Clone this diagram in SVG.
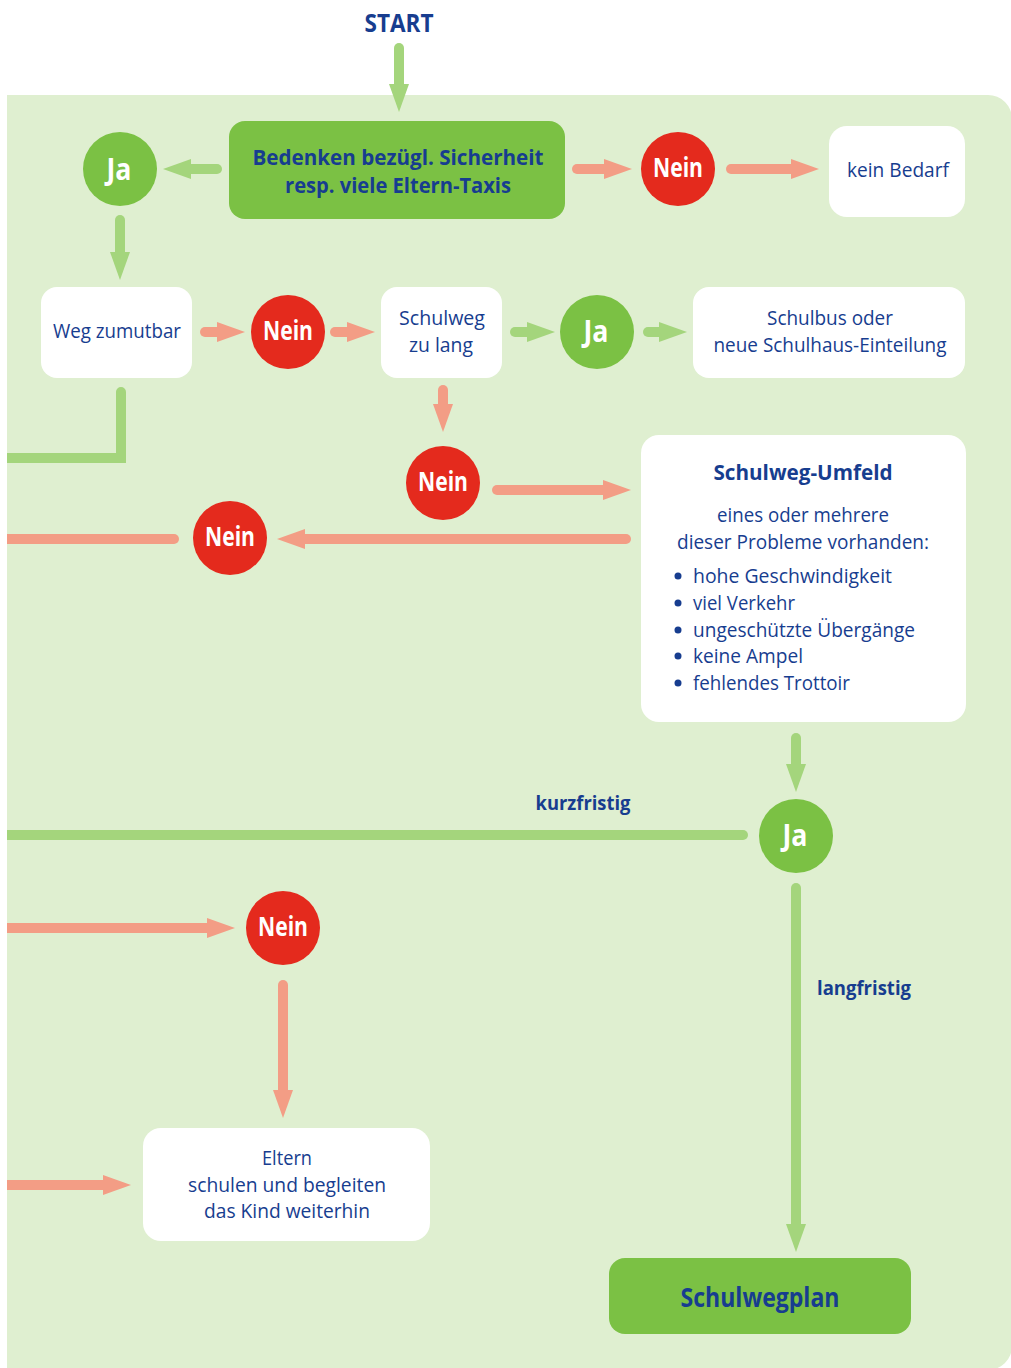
<svg xmlns="http://www.w3.org/2000/svg" width="1011" height="1368" viewBox="0 0 1011 1368">
<style>
.t{font-family:"Open Sans","Noto Sans",sans-serif;fill:#173D8F;text-anchor:middle}
.r{font-size:20px}
.b{font-weight:bold}
.w{fill:#fff}
.box{fill:#fff}
.gbox{fill:#7BC144}
.jc{fill:#7BC144}
.nc{fill:#E42A1D}
.g{stroke:#A4D57C;stroke-width:10;fill:none;stroke-linecap:round}
.s{stroke:#F39D85;stroke-width:10;fill:none;stroke-linecap:round}
</style>
<defs>
<marker id="ag" viewBox="0 0 28 20" refX="0" refY="10" markerWidth="28" markerHeight="20" markerUnits="userSpaceOnUse" orient="auto"><path d="M0,0 L28,10 L0,20 Z" fill="#A4D57C"/></marker>
<marker id="as" viewBox="0 0 28 20" refX="0" refY="10" markerWidth="28" markerHeight="20" markerUnits="userSpaceOnUse" orient="auto"><path d="M0,0 L28,10 L0,20 Z" fill="#F39D85"/></marker>
<clipPath id="panelclip"><rect x="7" y="0" width="1005" height="1370"/></clipPath>
</defs>
<rect width="1011" height="1368" fill="#fff"/>
<path d="M7,95 H988 A24,24 0 0 1 1012,119 V1346 A24,24 0 0 1 988,1370 H7 Z" fill="#DFEFD0"/>

<text class="t b" x="399" y="32" font-size="25" textLength="69" lengthAdjust="spacingAndGlyphs">START</text>

<g id="connectors" clip-path="url(#panelclip)">
<path class="g" d="M399,48 V84" marker-end="url(#ag)"/>
<path class="g" d="M217,169 H191" marker-end="url(#ag)"/>
<path class="s" d="M577,169 H604" marker-end="url(#as)"/>
<path class="s" d="M731,169 H791" marker-end="url(#as)"/>
<path class="g" d="M120,220 V252" marker-end="url(#ag)"/>
<path class="s" d="M205,332 H217" marker-end="url(#as)"/>
<path class="s" d="M335,332 H347" marker-end="url(#as)"/>
<path class="g" d="M515,332 H527" marker-end="url(#ag)"/>
<path class="g" d="M648,332 H659" marker-end="url(#ag)"/>
<path class="s" d="M443,390 V404" marker-end="url(#as)"/>
<path class="g" d="M121,392 V458 H-10" stroke-linejoin="miter"/>
<path class="s" d="M497,490 H603" marker-end="url(#as)"/>
<path class="s" d="M626,539 H305" marker-end="url(#as)"/>
<path class="s" d="M-10,539 H174"/>
<path class="g" d="M796,738 V764" marker-end="url(#ag)"/>
<path class="g" d="M-10,835 H743"/>
<path class="g" d="M796,888 V1224" marker-end="url(#ag)"/>
<path class="s" d="M-10,928 H207" marker-end="url(#as)"/>
<path class="s" d="M283,985 V1090" marker-end="url(#as)"/>
<path class="s" d="M-10,1185 H103" marker-end="url(#as)"/>
<text class="t b" x="583" y="810" font-size="19" textLength="95" lengthAdjust="spacingAndGlyphs">kurzfristig</text>
<text class="t b" x="864" y="995" font-size="19" textLength="94" lengthAdjust="spacingAndGlyphs">langfristig</text>
</g>

<g id="n-bedenken">
<rect class="gbox" x="229" y="121" width="336" height="98" rx="16"/>
<text class="t b" x="398" y="165" font-size="20.5" textLength="291" lengthAdjust="spacingAndGlyphs">Bedenken bezügl. Sicherheit</text>
<text class="t b" x="398" y="193" font-size="20.5" textLength="226" lengthAdjust="spacingAndGlyphs">resp. viele Eltern-Taxis</text>
</g>
<g id="n-ja1"><circle class="jc" cx="120" cy="169" r="37"/><text class="t b w" x="119" y="180" font-size="30" textLength="25" lengthAdjust="spacingAndGlyphs">Ja</text></g>
<g id="n-nein1"><circle class="nc" cx="678" cy="169" r="37"/><text class="t b w" x="678" y="177" font-size="26" textLength="50" lengthAdjust="spacingAndGlyphs">Nein</text></g>
<g id="n-keinbedarf">
<rect class="box" x="829" y="126" width="136" height="91" rx="18"/>
<text class="t r" x="898" y="177" textLength="102" lengthAdjust="spacingAndGlyphs">kein Bedarf</text>
</g>
<g id="n-weg">
<rect class="box" x="41" y="287" width="151" height="91" rx="16"/>
<text class="t r" x="117" y="338" textLength="128" lengthAdjust="spacingAndGlyphs">Weg zumutbar</text>
</g>
<g id="n-nein2"><circle class="nc" cx="288" cy="332" r="37"/><text class="t b w" x="288" y="340" font-size="26" textLength="50" lengthAdjust="spacingAndGlyphs">Nein</text></g>
<g id="n-schulweg">
<rect class="box" x="381" y="287" width="121" height="91" rx="16"/>
<text class="t r" x="442" y="325" textLength="86" lengthAdjust="spacingAndGlyphs">Schulweg</text>
<text class="t r" x="441" y="352" textLength="64" lengthAdjust="spacingAndGlyphs">zu lang</text>
</g>
<g id="n-ja2"><circle class="jc" cx="597" cy="332" r="37"/><text class="t b w" x="596" y="342" font-size="30" textLength="25" lengthAdjust="spacingAndGlyphs">Ja</text></g>
<g id="n-schulbus">
<rect class="box" x="693" y="287" width="272" height="91" rx="16"/>
<text class="t r" x="830" y="325" textLength="126" lengthAdjust="spacingAndGlyphs">Schulbus oder</text>
<text class="t r" x="830" y="352" textLength="233" lengthAdjust="spacingAndGlyphs">neue Schulhaus-Einteilung</text>
</g>
<g id="n-nein3"><circle class="nc" cx="443" cy="483" r="37"/><text class="t b w" x="443" y="491" font-size="26" textLength="50" lengthAdjust="spacingAndGlyphs">Nein</text></g>
<g id="n-umfeld">
<rect class="box" x="641" y="435" width="325" height="287" rx="18"/>
<text class="t b" x="803" y="480" font-size="22" textLength="179" lengthAdjust="spacingAndGlyphs">Schulweg-Umfeld</text>
<text class="t r" x="803" y="522" textLength="172" lengthAdjust="spacingAndGlyphs">eines oder mehrere</text>
<text class="t r" x="803" y="549" textLength="252" lengthAdjust="spacingAndGlyphs">dieser Probleme vorhanden:</text>
<g fill="#173D8F">
<circle cx="678" cy="576" r="3.5"/><circle cx="678" cy="603" r="3.5"/><circle cx="678" cy="630" r="3.5"/><circle cx="678" cy="656" r="3.5"/><circle cx="678" cy="683" r="3.5"/>
</g>
<text class="t r" x="693" y="583" style="text-anchor:start" textLength="199" lengthAdjust="spacingAndGlyphs">hohe Geschwindigkeit</text>
<text class="t r" x="693" y="610" style="text-anchor:start" textLength="102" lengthAdjust="spacingAndGlyphs">viel Verkehr</text>
<text class="t r" x="693" y="637" style="text-anchor:start" textLength="222" lengthAdjust="spacingAndGlyphs">ungeschützte Übergänge</text>
<text class="t r" x="693" y="663" style="text-anchor:start" textLength="110" lengthAdjust="spacingAndGlyphs">keine Ampel</text>
<text class="t r" x="693" y="690" style="text-anchor:start" textLength="157" lengthAdjust="spacingAndGlyphs">fehlendes Trottoir</text>
</g>
<g id="n-nein4"><circle class="nc" cx="230" cy="538" r="37"/><text class="t b w" x="230" y="546" font-size="26" textLength="50" lengthAdjust="spacingAndGlyphs">Nein</text></g>
<g id="n-ja3"><circle class="jc" cx="796" cy="836" r="37"/><text class="t b w" x="795" y="846" font-size="30" textLength="25" lengthAdjust="spacingAndGlyphs">Ja</text></g>
<g id="n-nein5"><circle class="nc" cx="283" cy="928" r="37"/><text class="t b w" x="283" y="936" font-size="26" textLength="50" lengthAdjust="spacingAndGlyphs">Nein</text></g>
<g id="n-eltern">
<rect class="box" x="143" y="1128" width="287" height="113" rx="18"/>
<text class="t r" x="287" y="1165" textLength="50" lengthAdjust="spacingAndGlyphs">Eltern</text>
<text class="t r" x="287" y="1192" textLength="198" lengthAdjust="spacingAndGlyphs">schulen und begleiten</text>
<text class="t r" x="287" y="1218" textLength="166" lengthAdjust="spacingAndGlyphs">das Kind weiterhin</text>
</g>
<g id="n-schulwegplan">
<rect class="gbox" x="609" y="1258" width="302" height="76" rx="16"/>
<text class="t b" x="760" y="1307" font-size="26" textLength="159" lengthAdjust="spacingAndGlyphs">Schulwegplan</text>
</g>
</svg>
